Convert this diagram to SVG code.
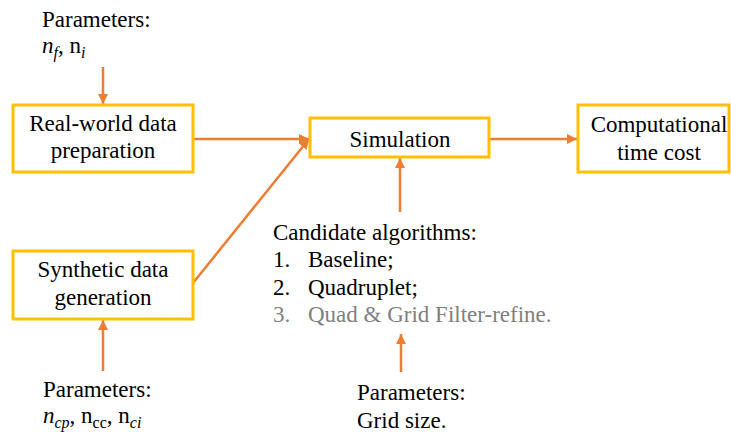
<svg xmlns="http://www.w3.org/2000/svg" width="731" height="432" viewBox="0 0 731 432">
<style>
.box{fill:#fff;stroke:#FFC000;stroke-width:3}
.t{font-size:23px;fill:#000}
.c{text-anchor:middle}
.i{font-style:italic}
.sub{font-size:16px}
.g{fill:#7F7F7F}
.conn{stroke:#ED7D31;stroke-width:2.5;fill:none;marker-end:url(#ah)}
</style>
<defs>
<marker id="ah" markerUnits="userSpaceOnUse" markerWidth="11" markerHeight="11" refX="10" refY="5" orient="auto">
<path d="M0,0 L10,5 L0,10 z" fill="#ED7D31"/>
</marker>
</defs>
<rect width="731" height="432" fill="#fff"/>
<g id="connectors">
<line class="conn" x1="103" y1="67" x2="103" y2="104"/>
<line class="conn" x1="193" y1="139" x2="309" y2="139"/>
<line class="conn" x1="193" y1="283" x2="309" y2="139"/>
<line class="conn" x1="489" y1="139" x2="577" y2="139"/>
<line class="conn" x1="400" y1="212" x2="400" y2="158"/>
<line class="conn" x1="103" y1="371" x2="103" y2="320"/>
<line class="conn" x1="401" y1="372" x2="401" y2="334"/>
</g>
<g font-family="'Liberation Serif', 'Times New Roman', Tinos, 'DejaVu Serif', serif">
<g id="params-real">
<text class="t" x="42" y="27">Parameters:</text>
<text class="t" x="42" y="53"><tspan class="i">n</tspan><tspan class="i sub" dy="5">f</tspan><tspan dy="-5">, n</tspan><tspan class="i sub" dy="5">i</tspan></text>
</g>
<g id="realworld">
<rect class="box" x="13" y="105" width="180" height="67"/>
<text class="t c" x="103" y="131">Real-world data</text>
<text class="t c" x="103" y="158">preparation</text>
</g>
<g id="synthetic">
<rect class="box" x="13" y="251" width="180" height="68"/>
<text class="t c" x="103" y="277">Synthetic data</text>
<text class="t c" x="103" y="305">generation</text>
</g>
<g id="params-synth">
<text class="t" x="43" y="397">Parameters:</text>
<text class="t" x="43" y="423"><tspan class="i">n</tspan><tspan class="i sub" dy="5">cp</tspan><tspan dy="-5">, n</tspan><tspan class="sub" dy="5">cc</tspan><tspan dy="-5">, n</tspan><tspan class="i sub" dy="5">ci</tspan></text>
</g>
<g id="simulation">
<rect class="box" x="310" y="118" width="179" height="39"/>
<text class="t c" x="400" y="147">Simulation</text>
</g>
<g id="cost">
<rect class="box" x="578" y="105" width="151" height="67"/>
<text class="t c" x="659" y="132">Computational</text>
<text class="t c" x="659" y="160">time cost</text>
</g>
<g id="candidates">
<text class="t" x="273" y="240">Candidate algorithms:</text>
<text class="t" x="273" y="267">1.</text><text class="t" x="308" y="267">Baseline;</text>
<text class="t" x="273" y="295">2.</text><text class="t" x="308" y="295">Quadruplet;</text>
<text class="t g" x="273" y="322">3.</text><text class="t g" x="308" y="322">Quad &amp; Grid Filter-refine.</text>
</g>
<g id="params-grid">
<text class="t" x="357" y="400">Parameters:</text>
<text class="t" x="357" y="428">Grid size.</text>
</g>
</g>
</svg>
